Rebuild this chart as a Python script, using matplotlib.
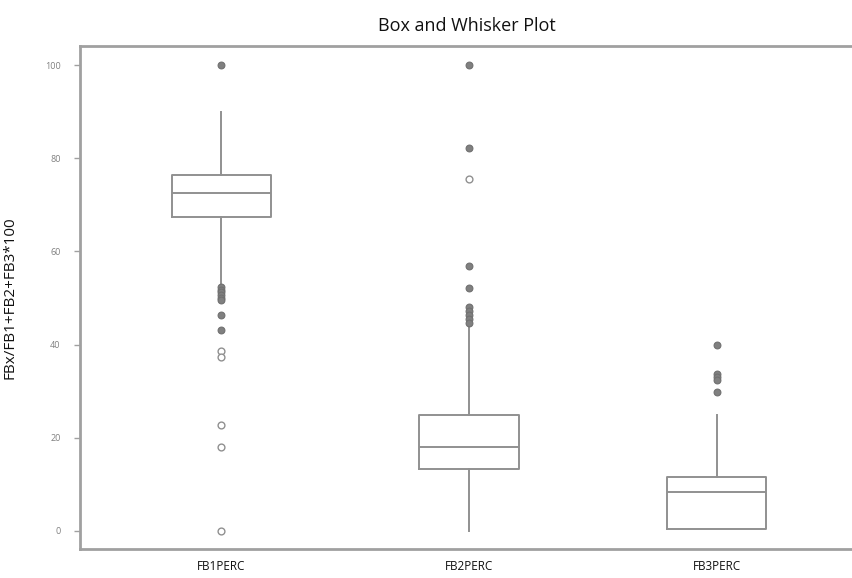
import matplotlib
matplotlib.use("Agg")
import matplotlib.pyplot as plt

plt.rcParams['font.family'] = ['Open Sans', 'DejaVu Sans']

categories = ["FB1PERC", "FB2PERC", "FB3PERC"]
q1 = [67.4, 13.3, 0.3]
median = [72.5, 18.0, 8.4]
q3 = [76.4, 24.9, 11.6]
whisker_low = [52.5, 0.0, 0.3]
whisker_high = [89.9, 43.8, 24.9]

# outliers per category: filled (extreme) and open markers
outliers_filled = [
    [100.0, 52.4, 51.8, 51.2, 50.6, 50.0, 49.6, 46.4, 43.1],
    [100.0, 82.2, 56.9, 52.1, 48.1, 47.2, 46.3, 45.4, 44.6],
    [39.9, 33.6, 33.0, 32.3, 29.8],
]
outliers_open = [
    [38.6, 37.3, 22.7, 18.0, 0.0],
    [75.5],
    [],
]

fig = plt.figure(figsize=(8.53, 5.78), dpi=100)
ax = fig.add_axes([0.0938, 0.0502, 0.9062, 0.8702])

positions = [1, 2, 3]
stats = []
for i, c in enumerate(categories):
    stats.append(dict(label=c, med=median[i], q1=q1[i], q3=q3[i],
                      whislo=whisker_low[i], whishi=whisker_high[i], fliers=[]))

line_col = "#909090"
ax.bxp(stats, positions=positions, widths=0.40, showfliers=False, showcaps=False,
       boxprops=dict(color=line_col, linewidth=1.4),
       medianprops=dict(color=line_col, linewidth=1.4),
       whiskerprops=dict(color=line_col, linewidth=1.4),
       capprops=dict(color=line_col, linewidth=1.4))

for i, p in enumerate(positions):
    vals = outliers_filled[i]
    ax.scatter([p] * len(vals), vals, s=24, color="#808080", edgecolors="#707070",
               linewidths=0.8, zorder=3)
    vals = outliers_open[i]
    ax.scatter([p] * len(vals), vals, s=24, facecolors="white", edgecolors="#909090",
               linewidths=1.0, zorder=3)

ax.set_xlim(0.43, 3.55)
ax.set_ylim(-3.9, 104.1)
ax.set_yticks([0, 20, 40, 60, 80, 100])
ax.set_yticklabels(["0", "20", "40", "60", "80", "100"], fontsize=6.5, color="#808080")
ax.set_xticks(positions)
ax.set_xticklabels(categories, fontsize=8.5, color="#111111")
ax.tick_params(axis='x', length=0, pad=8)
ax.tick_params(axis='y', length=4, width=1, color="#a0a0a0", pad=10)

for s in ["left", "top", "bottom"]:
    ax.spines[s].set_color("#a0a0a0")
    ax.spines[s].set_linewidth(2)
ax.spines["right"].set_visible(False)

ax.set_title("Box and Whisker Plot", fontsize=13, color="#111111", pad=11)
ax.set_ylabel("FBx/FB1+FB2+FB3*100", fontsize=11, color="#111111", labelpad=20)

fig.savefig("out.png", dpi=100)
